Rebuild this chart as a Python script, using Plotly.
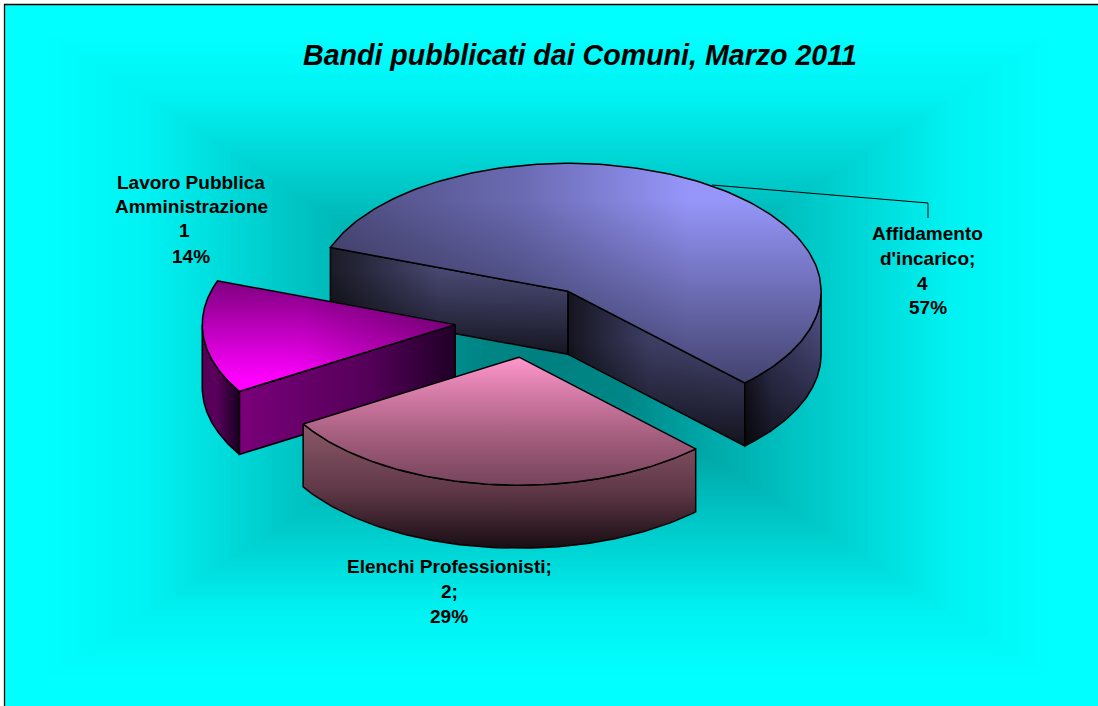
import base64
import math
import plotly.graph_objects as go

# ---- data ----
categories = ["Affidamento d'incarico", "Elenchi Professionisti", "Lavoro Pubblica Amministrazione"]
values = [4, 2, 1]
label_lines = [
    ["Affidamento", "d'incarico;", "4", "57%"],
    ["Elenchi Professionisti;", "2;", "29%"],
    ["Lavoro Pubblica", "Amministrazione", "1", "14%"],
]
title_text = "Bandi pubblicati dai Comuni, Marzo 2011"

# ---- drawing geometry (pixels = axis units) ----
W, H = 1098, 706
CX, CY, RX, RY, DEPTH = 529, 322, 253, 128, 63
PULL = 0.285
START_ANGLE = 160.0
NUDGE = {0: (0, 0), 1: (-1, -1), 2: (-2, -1)}
DRAW_ORDER = [0, 2, 1]


def G(kind, pairs):
    lo, hi = pairs[0][0], pairs[-1][0]
    return dict(type=kind, start=lo, stop=hi, colorscale=[[(p - lo) / (hi - lo), c] for p, c in pairs])


STYLES = {
    0: dict(
        top=[G("horizontal", [(330, "rgb(78,76,126)"), (520, "rgb(106,106,178)"), (690, "rgb(150,150,250)"), (821, "rgb(150,150,250)")]),
             G("vertical", [(200, "rgba(0,0,0,0)"), (381, "rgba(0,0,0,0.55)")])],
        wall_start=[G("horizontal", [(330, "rgb(26,26,38)"), (440, "rgb(72,72,114)"), (568, "rgb(76,76,120)")]),
                    G("vertical", [(270, "rgba(0,0,0,0)"), (354, "rgba(0,0,0,0.72)")])],
        wall_end=[G("horizontal", [(568, "rgb(20,20,32)"), (650, "rgb(62,62,100)"), (744, "rgb(70,70,112)")]),
                  G("vertical", [(340, "rgba(0,0,0,0)"), (444, "rgba(0,0,0,0.72)")])],
        rim=[G("horizontal", [(744, "rgb(24,24,38)"), (772, "rgb(62,62,104)"), (821, "rgb(84,84,140)")]),
             G("vertical", [(300, "rgba(0,0,0,0)"), (444, "rgba(0,0,0,0.68)")])],
    ),
    1: dict(
        top=[G("vertical", [(357, "rgb(255,150,205)"), (400, "rgb(205,118,160)"), (440, "rgb(160,92,122)"), (485, "rgb(118,68,92)")])],
        rim=[G("vertical", [(425, "rgb(138,88,104)"), (490, "rgb(96,56,72)"), (547, "rgb(26,14,20)")])],
    ),
    2: dict(
        top=[G("horizontal", [(202, "rgb(255,0,255)"), (300, "rgb(255,0,255)"), (455, "rgb(165,0,165)")]),
             G("vertical", [(282, "rgba(0,0,0,0.5)"), (380, "rgba(0,0,0,0)")])],
        wall_start=[G("horizontal", [(238, "rgb(122,0,122)"), (370, "rgb(84,0,88)"), (455, "rgb(32,0,40)")])],
        rim=[G("horizontal", [(202, "rgb(84,0,88)"), (216, "rgb(90,0,92)"), (238, "rgb(28,0,36)")])],
    ),
}


def arc(cx, cy, a0, a1, n=90, dy=0):
    pts = [a0 + (a1 - a0) * i / n for i in range(n + 1)]
    return ([cx + RX * math.cos(math.radians(t)) for t in pts],
            [cy - RY * math.sin(math.radians(t)) + dy for t in pts])


fig = go.Figure()


def poly(xs, ys, layers):
    for g in layers:
        fig.add_trace(go.Scatter(x=xs, y=ys, mode="lines", fill="toself", fillgradient=g,
                                 line=dict(width=0, color="rgba(0,0,0,0)"),
                                 hoverinfo="skip", showlegend=False))
    fig.add_trace(go.Scatter(x=xs, y=ys, mode="lines", line=dict(color="black", width=1.5),
                             hoverinfo="skip", showlegend=False))


total = sum(values)
spans = []
angle = START_ANGLE
for v in values:
    spans.append((angle, angle - 360 * v / total))
    angle = spans[-1][1]

for i in DRAW_ORDER:
    a0, a1 = spans[i]
    mid = math.radians((a0 + a1) / 2)
    ox = CX + PULL * RX * math.cos(mid) + NUDGE[i][0]
    oy = CY - PULL * RY * math.sin(mid) + NUDGE[i][1]
    st = STYLES[i]

    def wall(a):
        ex = ox + RX * math.cos(math.radians(a))
        ey = oy - RY * math.sin(math.radians(a))
        return [ox, ex, ex, ox, ox], [oy, ey, ey + DEPTH, oy + DEPTH, oy]

    if "wall_start" in st:
        poly(*wall(a0), st["wall_start"])
    if "wall_end" in st:
        poly(*wall(a1), st["wall_end"])

    # visible outer rim: the part of the arc on the near half of the ellipse
    lo, hi = a1, a0
    k = math.floor(lo / 360)
    for base in (k * 360 - 180, k * 360 + 180):
        s, e = max(lo, base), min(hi, base + 180)
        if e > s:
            xt, yt = arc(ox, oy, s, e)
            xb, yb = arc(ox, oy, e, s, dy=DEPTH)
            poly(xt + xb + [xt[0]], yt + yb + [yt[0]], st["rim"])

    xa, ya = arc(ox, oy, a0, a1, n=160)
    poly([ox] + xa + [ox], [oy] + ya + [oy], st["top"])

# ---- background: cyan field with a rectangular gradient to teal at the centre ----
bx, by, hx, hy = 549, 355, 500, 320
CURVE = [(0, 0), (0.2, 0.1), (0.7, 0.7), (0.85, 0.95), (1, 1)]


def shade(t):
    for (a, b), (c, d) in zip(CURVE, CURVE[1:]):
        if t <= c:
            return b + (d - b) * (t - a) / (c - a)
    return 1


rings = []
N = 127
for j in range(N):
    t = j / N
    rx, ry = hx * (1 - t), hy * (1 - t)
    g = round(255 - 127 * shade(t + 1 / N))
    rings.append(f'<rect x="{bx-rx:.1f}" y="{by-ry:.1f}" width="{2*rx:.1f}" height="{2*ry:.1f}" fill="rgb(0,{g},{g})"/>')
svg = (f'<svg xmlns="http://www.w3.org/2000/svg" width="{W}" height="{H}" viewBox="0 0 {W} {H}" shape-rendering="crispEdges">'
       f'<rect width="{W}" height="{H}" fill="white"/><rect x="4" y="4" width="{W}" height="{H}" fill="#00ffff"/>'
       + "".join(rings) + "</svg>")
img = "data:image/svg+xml;base64," + base64.b64encode(svg.encode()).decode()

FONT = "Liberation Sans, Arial, sans-serif"
annotations = [dict(x=580, y=55, xref="x", yref="y", text=f"<b><i>{title_text}</i></b>", showarrow=False,
                    font=dict(family=FONT, size=28.6, color="black"))]
label_x = [[927, 927, 922, 928], [449, 449, 449], [191, 191, 184, 191]]
label_y = [[233, 258, 283, 307], [566, 591, 616], [182, 206, 230, 256]]
for lines, xs, ys in zip(label_lines, label_x, label_y):
    for t, x, y in zip(lines, xs, ys):
        annotations.append(dict(x=x, y=y, xref="x", yref="y", text=f"<b>{t}</b>", showarrow=False,
                                font=dict(family=FONT, size=19, color="black")))

fig.update_layout(
    width=W, height=H, autosize=False, margin=dict(l=0, r=0, t=0, b=0),
    paper_bgcolor="white", plot_bgcolor="rgba(0,0,0,0)", showlegend=False,
    xaxis=dict(range=[0, W], visible=False, fixedrange=True),
    yaxis=dict(range=[H, 0], visible=False, fixedrange=True),
    images=[dict(source=img, xref="x", yref="y", x=0, y=0, sizex=W, sizey=H,
                 xanchor="left", yanchor="top", sizing="stretch", layer="below")],
    shapes=[
        dict(type="rect", xref="x", yref="y", x0=4.5, y0=4.5, x1=W + 20, y1=H + 20,
             line=dict(color="black", width=1.3), layer="above"),
        dict(type="path", xref="x", yref="y", path="M 712 185 L 928 203 L 928 218",
             line=dict(color="black", width=1)),
    ],
    annotations=annotations,
)
fig.write_html("out.html", config={"displayModeBar": False},
               post_script="document.body.style.margin='0';document.body.style.overflow='hidden';")
